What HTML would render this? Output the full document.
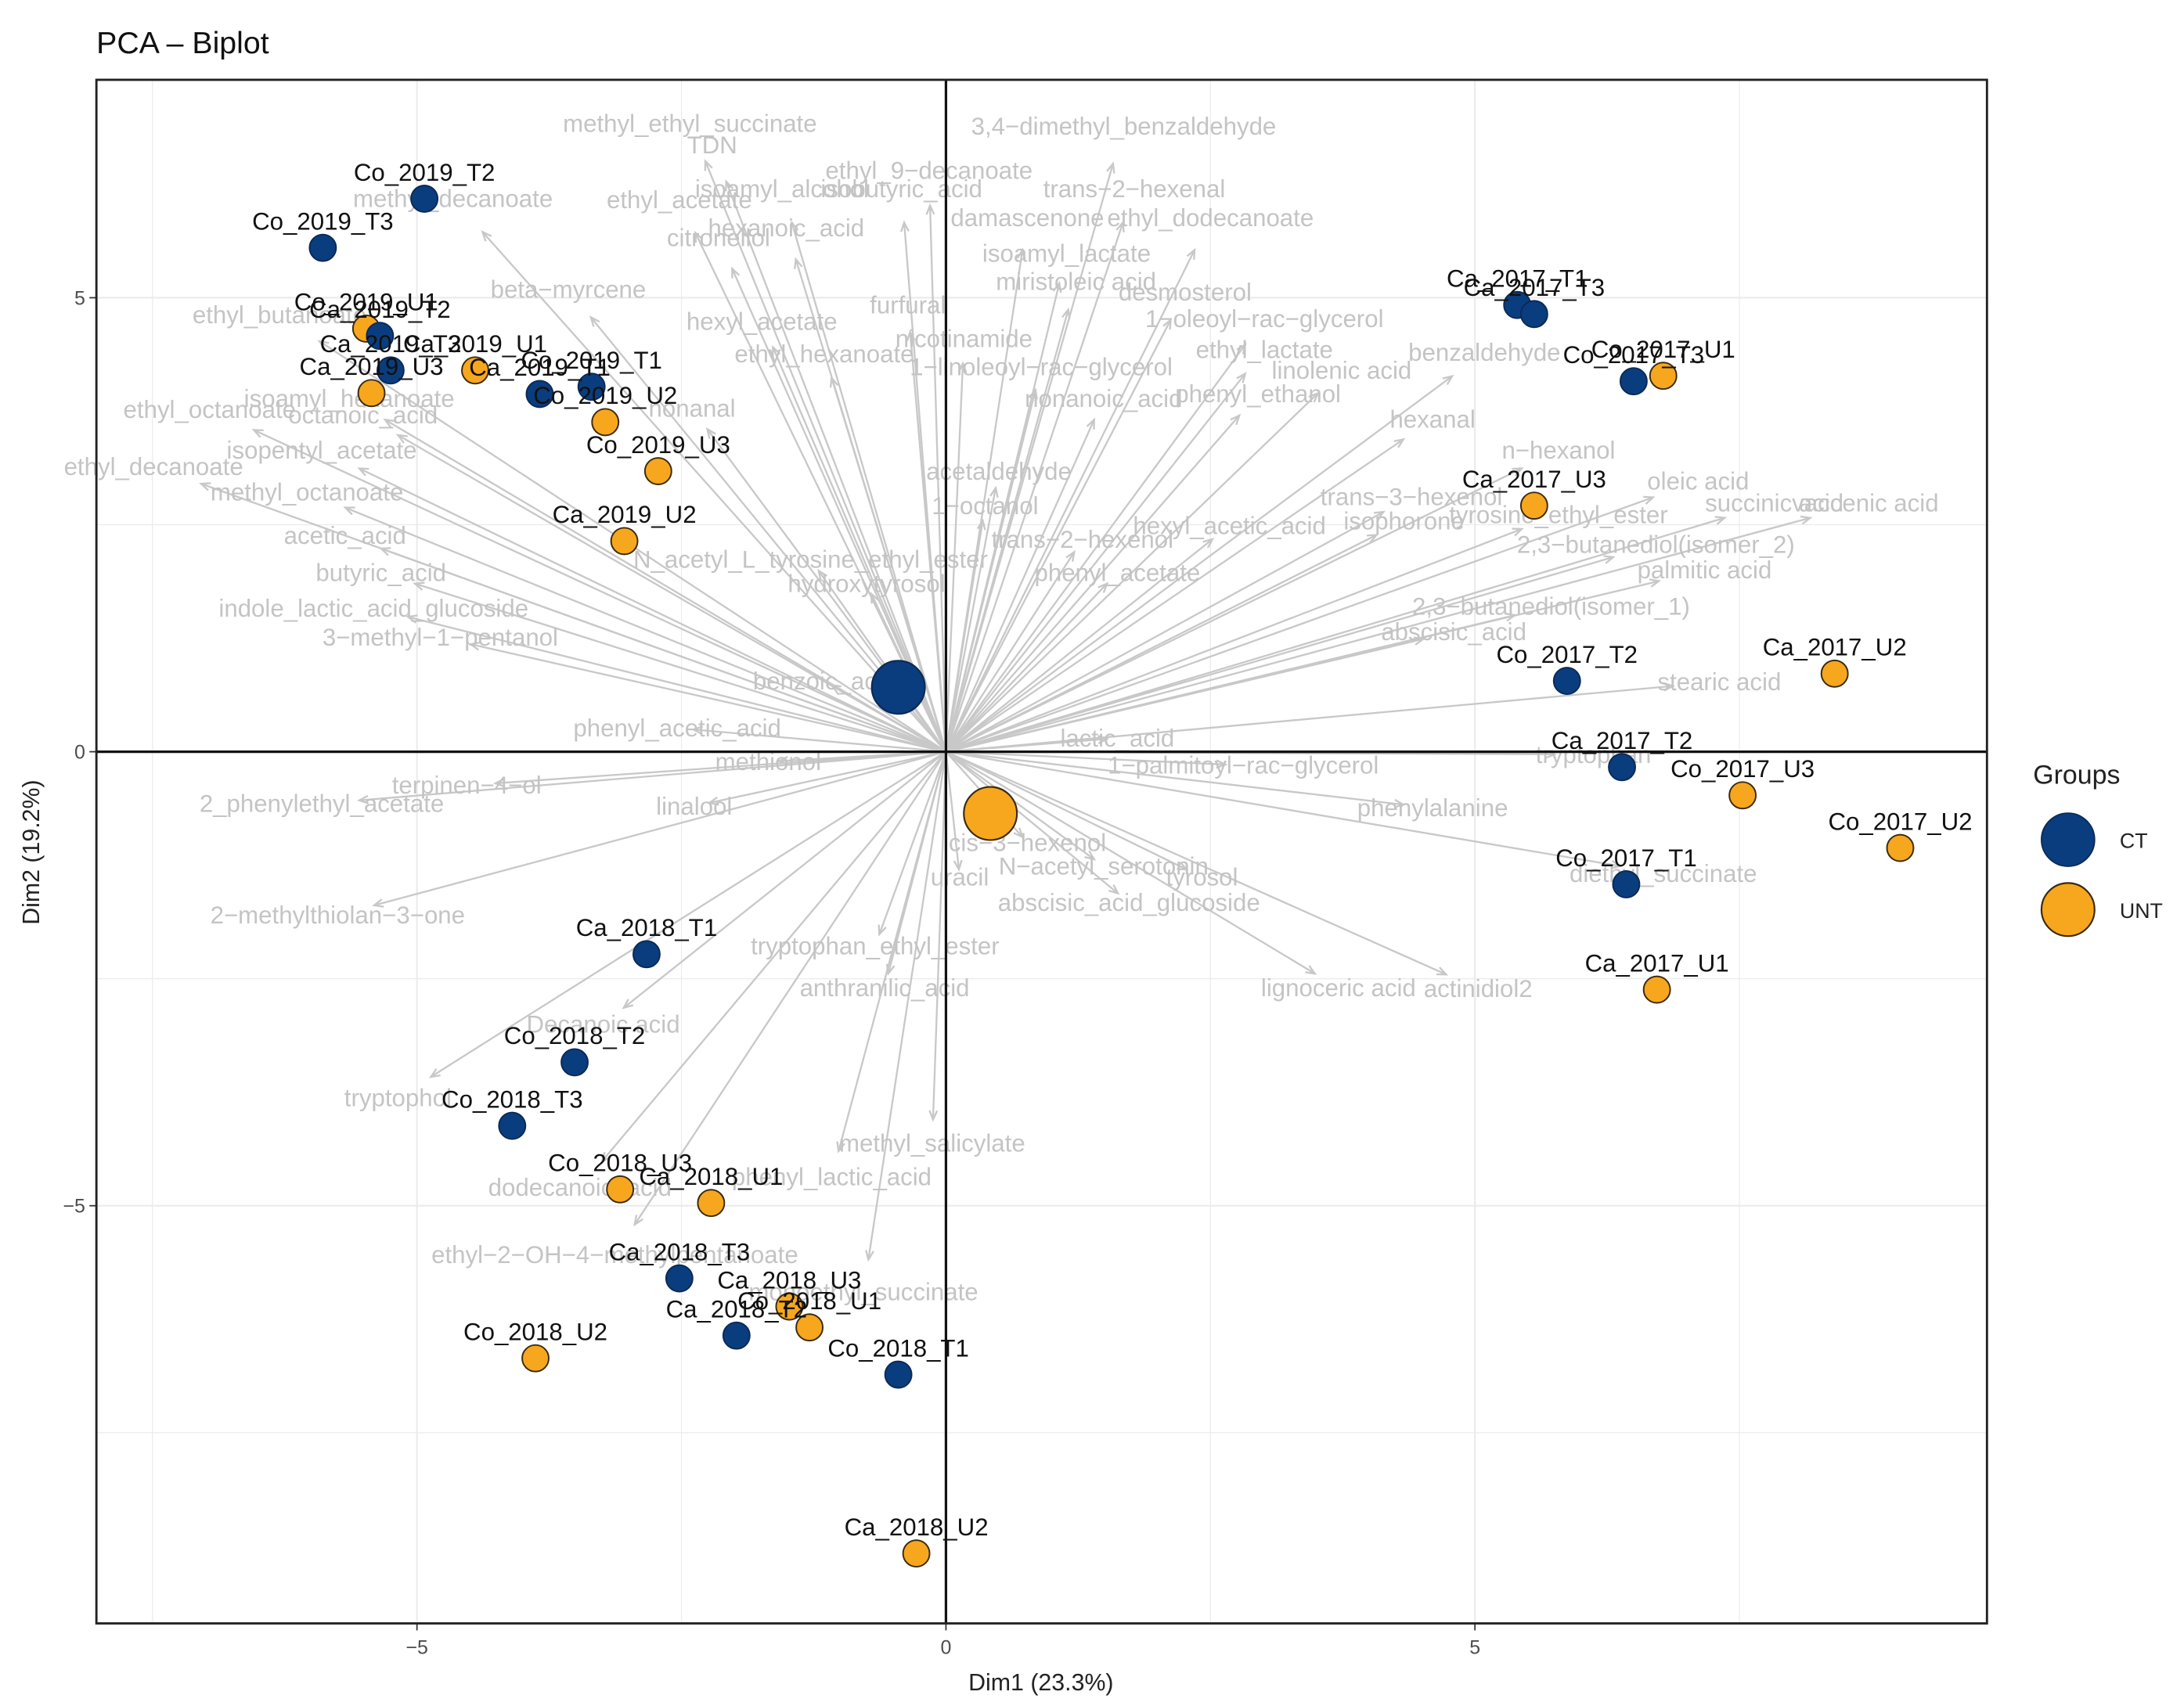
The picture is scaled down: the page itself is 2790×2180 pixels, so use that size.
<!DOCTYPE html>
<html><head><meta charset="utf-8"><title>PCA - Biplot</title>
<style>html,body{margin:0;padding:0;background:#fff}svg{display:block}text{font-family:"Liberation Sans",Arial,sans-serif}</style>
</head><body>
<svg id="chart" width="2790" height="2180" viewBox="0 0 1563 1221" xmlns="http://www.w3.org/2000/svg">
<rect x="0" y="0" width="1563" height="1221" fill="#fff"/>
<text x="69" y="38" font-size="22" fill="#111">PCA – Biplot</text>
<g id="grid"></g>
<g id="arrows"></g>
<g id="varlabels"></g>
<g id="axes0"></g>
<g id="points"></g>
<g id="ticks"></g>
<rect x="69" y="57" width="1353" height="1105" fill="none" stroke="#222" stroke-width="1.6"/>
<text x="745" y="1210" font-size="17" text-anchor="middle" fill="#222">Dim1 (23.3%)</text>
<text transform="translate(28,610) rotate(-90)" font-size="17" text-anchor="middle" fill="#222">Dim2 (19.2%)</text>
<g>
<text x="1455" y="561" font-size="19" fill="#222">Groups</text>
<circle cx="1480" cy="601" r="19" fill="#0a3d7e" stroke="#0a2a55" stroke-width="1"/>
<text x="1517" y="607" font-size="15" fill="#222">CT</text>
<circle cx="1480" cy="651" r="19" fill="#f7a71e" stroke="#3a2a10" stroke-width="1.2"/>
<text x="1517" y="657" font-size="15" fill="#222">UNT</text>
</g>
</svg>
<script>
// ---- data ----
const varNames = ["methyl_ethyl_succinate","TDN","3,4−dimethyl_benzaldehyde","ethyl_9−decanoate","isoamyl_alcohol","isobutyric_acid","trans−2−hexenal","methyl_decanoate","ethyl_acetate","hexanoic_acid","citronellol","damascenone","ethyl_dodecanoate","isoamyl_lactate","miristoleic acid","desmosterol","beta−myrcene","ethyl_butanoate","furfural","hexyl_acetate","ethyl_hexanoate","nicotinamide","1−oleoyl−rac−glycerol","ethyl_lactate","1−linoleoyl−rac−glycerol","linolenic acid","benzaldehyde","nonanoic_acid","phenyl_ethanol","ethyl_octanoate","octanoic_acid","isoamyl_hexanoate","hexanal","nonanal","isopentyl_acetate","n−hexanol","ethyl_decanoate","acetaldehyde","methyl_octanoate","trans−3−hexenol","oleic acid","succinic acid","vaccenic acid","tyrosine_ethyl_ester","1−octanol","isophorone","acetic_acid","trans−2−hexenol","hexyl_acetic_acid","2,3−butanediol(isomer_2)","N_acetyl_L_tyrosine_ethyl_ester","butyric_acid","hydroxytyrosol","phenyl_acetate","palmitic acid","indole_lactic_acid_glucoside","2,3−butanediol(isomer_1)","3−methyl−1−pentanol","abscisic_acid","stearic acid","benzoic_acid","phenyl_acetic_acid","lactic_acid","methionol","tryptophan","1−palmitoyl−rac−glycerol","terpinen−4−ol","2_phenylethyl_acetate","linalool","phenylalanine","cis−3−hexenol","N−acetyl_serotonin","tyrosol","uracil","diethyl_succinate","abscisic_acid_glucoside","2−methylthiolan−3−one","tryptophan_ethyl_ester","lignoceric acid","actinidiol2","anthranilic_acid","Decanoic acid","tryptophol","methyl_salicylate","dodecanoic_acid","phenyl_lactic_acid","ethyl−2−OH−4−methylpentanoate","monoethyl_succinate"];
const varX = [-2.42,-2.21,1.68,-0.16,-1.55,-0.42,1.78,-4.66,-2.52,-1.51,-2.15,0.77,2.50,1.14,1.23,2.26,-3.57,-6.30,-0.36,-1.74,-1.15,0.17,3.01,3.01,0.90,3.74,5.09,1.49,2.95,-6.96,-5.51,-5.64,4.60,-2.40,-5.90,5.79,-7.49,0.50,-6.04,4.40,7.11,7.83,8.69,5.79,0.37,4.33,-5.68,1.29,2.68,6.71,-1.28,-5.34,-0.75,1.62,7.17,-5.41,5.72,-4.78,4.80,7.31,-1.15,-2.54,1.62,-1.68,6.12,2.81,-4.53,-5.90,-2.38,4.60,0.77,1.49,2.42,0.13,6.78,1.73,-5.75,-0.67,3.71,5.03,-0.58,-3.24,-5.18,-0.13,-3.46,-1.08,-3.13,-0.78];
const varY = [6.92,6.68,6.89,6.40,6.20,6.20,6.20,6.09,6.08,5.77,5.66,5.88,5.88,5.49,5.18,5.06,5.09,4.81,4.92,4.74,4.38,4.55,4.77,4.43,4.24,4.20,4.40,3.89,3.94,3.77,3.71,3.89,3.66,3.78,3.32,3.32,3.14,3.09,2.86,2.81,2.98,2.74,2.74,2.61,2.71,2.54,2.38,2.34,2.49,2.28,2.12,1.97,1.85,1.97,2.00,1.58,1.60,1.26,1.32,0.77,0.78,0.26,0.15,-0.11,-0.03,-0.15,-0.37,-0.57,-0.60,-0.62,-1.00,-1.26,-1.38,-1.38,-1.34,-1.66,-1.80,-2.14,-2.60,-2.61,-2.60,-3.00,-3.81,-4.31,-4.80,-4.68,-5.54,-5.95];

const indNames = ["Co_2019_T2","Co_2019_T3","Co_2019_U1","Ca_2019_T2","Ca_2019_T3","Ca_2019_U3","Ca_2019_U1","Ca_2019_T1","Co_2019_T1","Co_2019_U2","Co_2019_U3","Ca_2019_U2","Ca_2017_T1","Ca_2017_T3","Co_2017_T3","Co_2017_U1","Ca_2017_U3","Co_2017_T2","Ca_2017_U2","Ca_2017_T2","Co_2017_U3","Co_2017_U2","Co_2017_T1","Ca_2017_U1","Ca_2018_T1","Co_2018_T2","Co_2018_T3","Co_2018_U3","Ca_2018_U1","Ca_2018_T3","Ca_2018_U3","Co_2018_U1","Ca_2018_T2","Co_2018_U2","Co_2018_T1","Ca_2018_U2"];
const indGroup = ["CT","CT","UNT","CT","CT","UNT","UNT","CT","CT","UNT","UNT","UNT","CT","CT","CT","UNT","UNT","CT","UNT","CT","UNT","UNT","CT","UNT","CT","CT","CT","UNT","UNT","CT","UNT","UNT","CT","UNT","CT","UNT"];
const indX = [-4.93,-5.89,-5.48,-5.35,-5.25,-5.43,-4.45,-3.84,-3.35,-3.22,-2.72,-3.04,5.40,5.56,6.50,6.78,5.56,5.87,8.40,6.39,7.53,9.02,6.43,6.72,-2.83,-3.51,-4.10,-3.08,-2.22,-2.52,-1.48,-1.29,-1.98,-3.88,-0.45,-0.28];
const indY = [6.09,5.55,4.66,4.58,4.20,3.95,4.20,3.94,4.02,3.63,3.09,2.32,4.92,4.82,4.08,4.14,2.71,0.78,0.86,-0.17,-0.48,-1.06,-1.46,-2.62,-2.23,-3.42,-4.12,-4.82,-4.97,-5.80,-6.11,-6.34,-6.43,-6.68,-6.86,-8.83];

const centroidGroup = ["CT","UNT"];
const centroidX = [-0.45,0.42];
const centroidY = [0.71,-0.68];

const xTicks = [-5,0,5];
const yTicks = [-5,0,5];
const xMinor = [-7.5,-2.5,2.5,7.5];
const yMinor = [-7.5,-2.5,2.5];

// ---- scales ----
const X0=69,X1=1422,Y0=57,Y1=1162;
const xMin=-8.03,xMax=9.84,yMin=-9.6,yMax=7.4;
const sx = v => X0 + (v-xMin)/(xMax-xMin)*(X1-X0);
const sy = v => Y1 - (v-yMin)/(yMax-yMin)*(Y1-Y0);
const NS="http://www.w3.org/2000/svg";
const colors={CT:"#0a3d7e",UNT:"#f7a71e"};
function mk(tag,parent,attrs){const e=document.createElementNS(NS,tag);for(const k in attrs)e.setAttribute(k,attrs[k]);parent.appendChild(e);return e;}

// grid
const grid=document.getElementById('grid');
xMinor.concat(xTicks).forEach(v=>{const l=mk('line',grid,{x1:sx(v),x2:sx(v),y1:Y0,y2:Y1,stroke:'#ebebeb','stroke-width':xTicks.includes(v)?1.2:0.7});

});
yMinor.concat(yTicks).forEach(v=>{const l=mk('line',grid,{x1:X0,x2:X1,y1:sy(v),y2:sy(v),stroke:'#ebebeb','stroke-width':yTicks.includes(v)?1.2:0.7});

});

// arrows + variable labels
const ag=document.getElementById('arrows'), lg=document.getElementById('varlabels');
const ox=sx(0), oy=sy(0);
varNames.forEach((n,i)=>{
  const ex=sx(varX[i]*0.94), ey=sy(varY[i]*0.94);
  const line=mk('line',ag,{x1:ox,y1:oy,x2:ex,y2:ey,stroke:'#c8c8c8','stroke-width':1.3});
  
  
  const ang=Math.atan2(ey-oy,ex-ox), h=7;
  const head=mk('polyline',ag,{points:`${ex-h*Math.cos(ang-0.4)},${ey-h*Math.sin(ang-0.4)} ${ex},${ey} ${ex-h*Math.cos(ang+0.4)},${ey-h*Math.sin(ang+0.4)}`,fill:'none',stroke:'#c8c8c8','stroke-width':1.3});
  
  
  const t=mk('text',lg,{x:sx(varX[i]),y:sy(varY[i])+6,'font-size':17.5,'text-anchor':'middle',fill:'#c4c4c4'});
  t.textContent=n;
  
  
});

// zero axes
const a0=document.getElementById('axes0');
const zx=mk('line',a0,{x1:ox,x2:ox,y1:Y0,y2:Y1,stroke:'#111','stroke-width':1.8});


const zy=mk('line',a0,{x1:X0,x2:X1,y1:oy,y2:oy,stroke:'#111','stroke-width':1.8});



// centroids + points
const pg=document.getElementById('points');
centroidGroup.forEach((g,i)=>{
  const c=mk('circle',pg,{cx:sx(centroidX[i]),cy:sy(centroidY[i]),r:19,fill:colors[g],stroke:g==='CT'?'#0a2a55':'#3a2a10','stroke-width':1.2});
  
  
});
indNames.forEach((n,i)=>{
  const c=mk('circle',pg,{cx:sx(indX[i]),cy:sy(indY[i]),r:9.5,fill:colors[indGroup[i]],stroke:indGroup[i]==='CT'?'#0a2a55':'#3a2a10','stroke-width':1.1});
  
  
});
indNames.forEach((n,i)=>{
  const t=mk('text',pg,{x:sx(indX[i]),y:sy(indY[i])-13,'font-size':17.5,'text-anchor':'middle',fill:'#111'});
  t.textContent=n;
  
  
});

// ticks
const tg=document.getElementById('ticks');
xTicks.forEach(v=>{
  const l=mk('line',tg,{x1:sx(v),x2:sx(v),y1:Y1,y2:Y1+5,stroke:'#333','stroke-width':1});
  
  
  const t=mk('text',tg,{x:sx(v),y:Y1+22,'font-size':14,'text-anchor':'middle',fill:'#4d4d4d'});
  t.textContent=v<0?'−'+Math.abs(v):String(v);
  
  
});
yTicks.forEach(v=>{
  const l=mk('line',tg,{x1:X0-5,x2:X0,y1:sy(v),y2:sy(v),stroke:'#333','stroke-width':1});
  
  
  const t=mk('text',tg,{x:X0-8,y:sy(v)+5,'font-size':14,'text-anchor':'end',fill:'#4d4d4d'});
  t.textContent=v<0?'−'+Math.abs(v):String(v);
  
  
});
</script>
</body></html>
